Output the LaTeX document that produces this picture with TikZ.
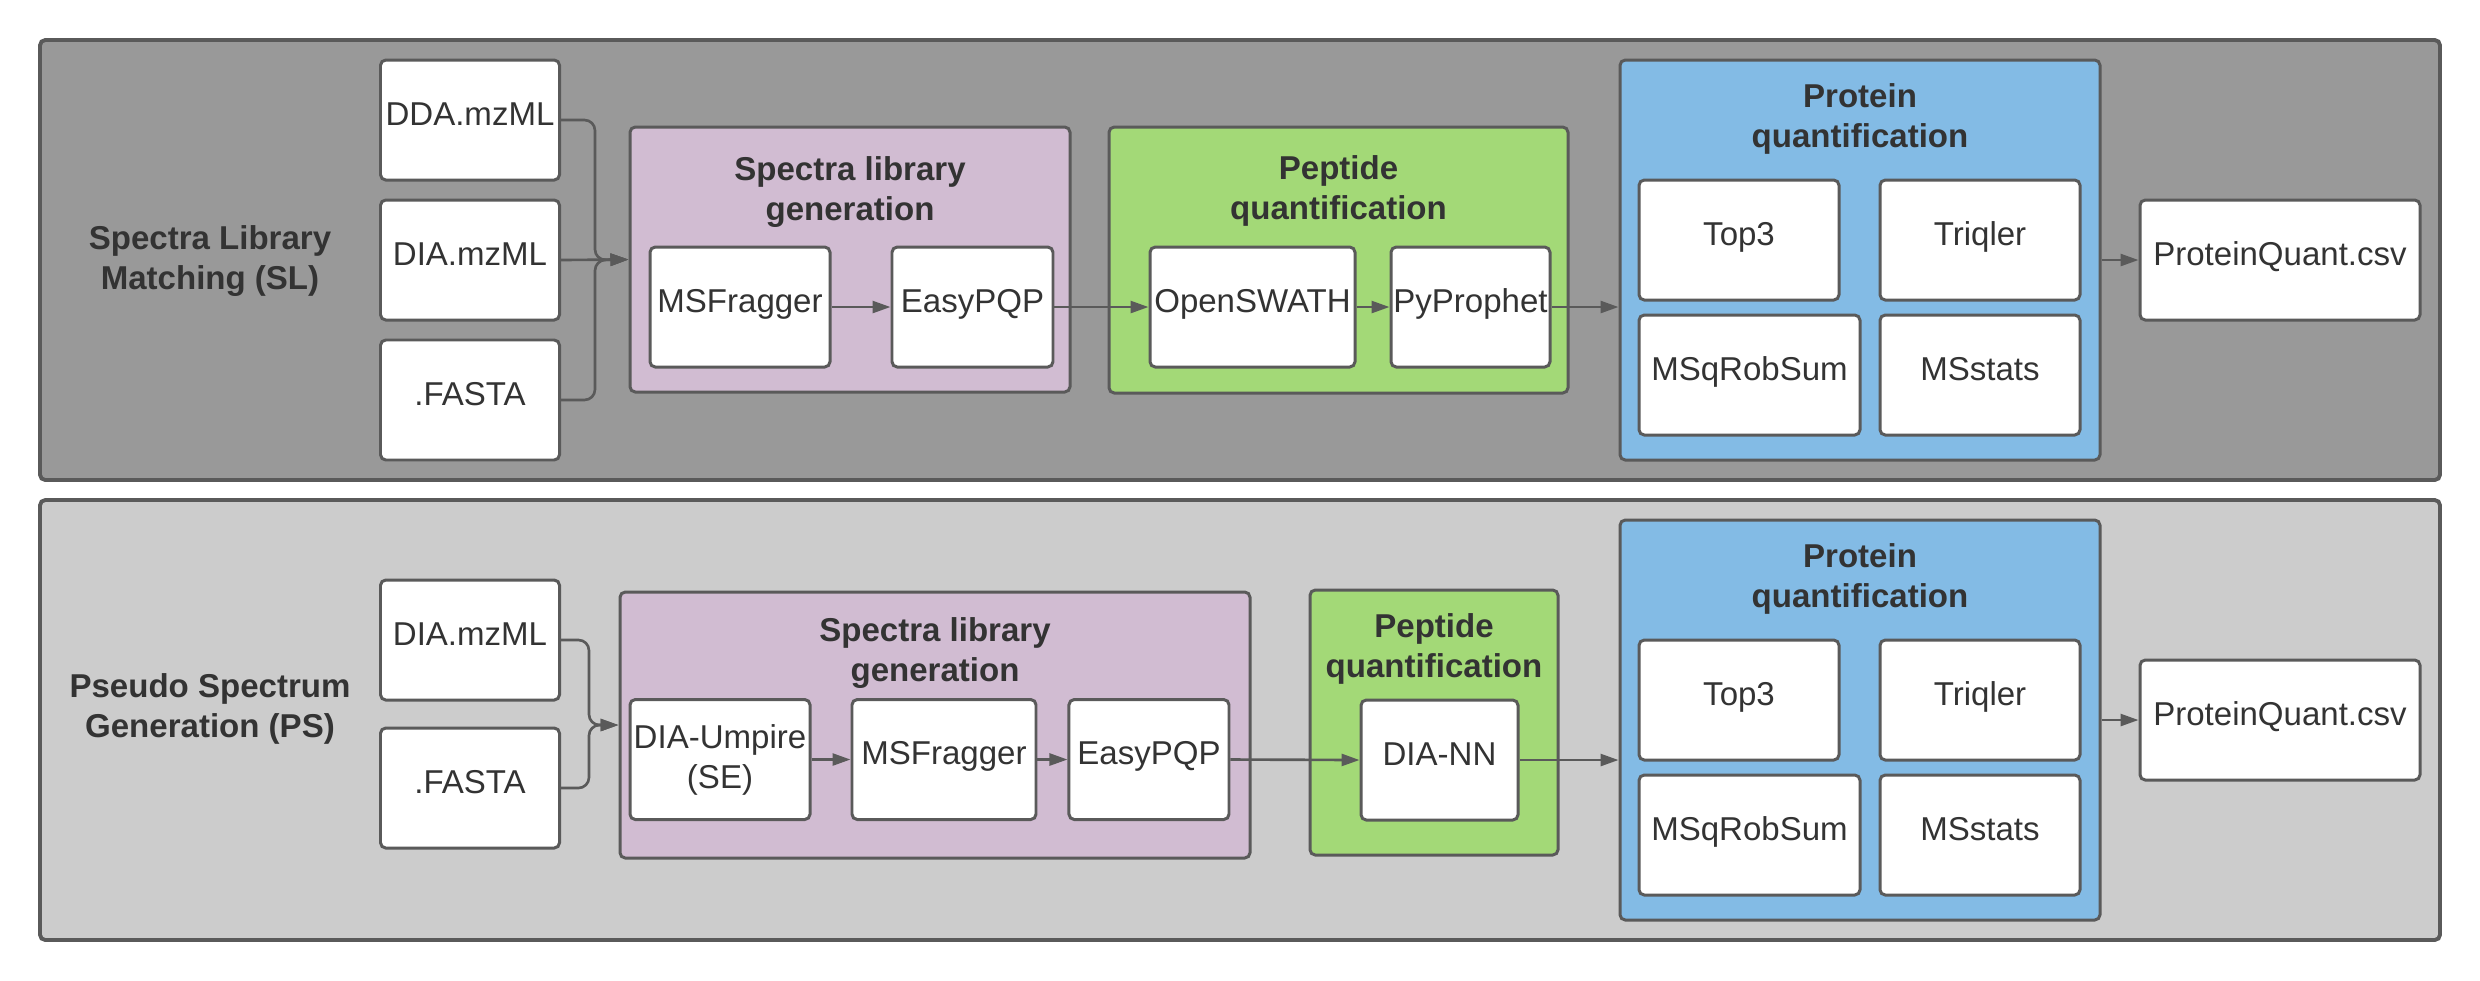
\documentclass[tikz,border=0pt]{standalone}
\usepackage{fontspec}
\setmainfont{Liberation Sans}
\usepackage{xcolor}
\usepackage{tikz}
\usetikzlibrary{arrows.meta, positioning, calc}

\definecolor{laneDark}{HTML}{999999}
\definecolor{laneLight}{HTML}{CCCCCC}
\definecolor{libPurple}{HTML}{D1BCD2}
\definecolor{pepGreen}{HTML}{A3D977}
\definecolor{protBlue}{HTML}{83BBE5}
\definecolor{lineGray}{HTML}{5A5A5A}
\definecolor{ink}{HTML}{333333}

\begin{document}
\begin{tikzpicture}[
    font=\fontsize{9.4}{11.4}\selectfont,
    text=ink,
    lane/.style={rectangle, draw=lineGray, line width=1.1pt, rounded corners=1.5pt, minimum width=24cm, minimum height=4.4cm},
    group/.style={rectangle, draw=lineGray, line width=0.85pt, rounded corners=1.5pt},
    toolbase/.style={rectangle, draw=lineGray, fill=white, line width=0.85pt, rounded corners=1.5pt, minimum height=1.2cm, inner sep=0pt, align=center},
    tool/.style={toolbase, text height=0.62em, text depth=0.32em},
    heading/.style={font=\fontsize{9.4}{11.4}\selectfont\bfseries, align=center, inner sep=0pt},
    flow/.style={-{Triangle[length=0.18cm, width=0.12cm]}, draw=lineGray, line width=0.75pt}
]
    \useasboundingbox (0,0) rectangle (24.8,-9.8);

    % Lanes
    \node [lane, fill=laneDark] (sllane) at (12.4,-2.6) {};
    \node [lane, fill=laneLight] (pslane) at (12.4,-7.2) {};
    \node [heading] (sllabel) at (2.10,-2.61) {Spectra Library\\Matching (SL)};
    \node [heading] (pslabel) at (2.10,-7.09) {Pseudo Spectrum\\Generation (PS)};

    % ---------- Spectra Library Matching ----------
    % Inputs
    \node [tool, minimum width=1.79cm] (dda1) at (4.70,-1.20) {DDA.mzML};
    \node [tool, minimum width=1.79cm, below=0.17cm of dda1] (dia1) {DIA.mzML};
    \node [tool, minimum width=1.79cm, below=0.17cm of dia1] (fasta1) {.FASTA};

    % Spectra library generation
    \node [group, fill=libPurple, minimum width=4.4cm, minimum height=2.65cm] (slg1) at (8.50,-2.595) {};
    \node [heading, anchor=north] (slgtitle1) at ($(slg1.north)+(0,-0.30)$) {Spectra library\\generation};
    \node [tool, minimum width=1.80cm] (msf1) at (7.40,-3.07) {MSFragger};
    \node [tool, minimum width=1.61cm, right=0.59cm of msf1] (easy1) {EasyPQP};

    % Peptide quantification
    \node [group, fill=pepGreen, minimum width=4.59cm, minimum height=2.66cm] (pep1) at (13.385,-2.60) {};
    \node [heading, anchor=north] (peptitle1) at ($(pep1.north)+(0,-0.29)$) {Peptide\\quantification};
    \node [tool, minimum width=2.05cm] (osw1) at (12.525,-3.07) {OpenSWATH};
    \node [tool, minimum width=1.59cm, right=0.33cm of osw1] (pyp1) {PyProphet};

    % Protein quantification
    \node [group, fill=protBlue, minimum width=4.8cm, minimum height=4.0cm] (prot1) at (18.60,-2.60) {};
    \node [heading, anchor=north] (prottitle1) at ($(prot1.north)+(0,-0.24)$) {Protein\\quantification};
    \node [tool, minimum width=2.0cm] (top1) at (17.39,-2.40) {Top3};
    \node [tool, minimum width=2.0cm] (triq1) at (19.80,-2.40) {Triqler};
    \node [tool, minimum width=2.21cm] (msq1) at (17.495,-3.75) {MSqRobSum};
    \node [tool, minimum width=2.0cm] (mss1) at (19.80,-3.75) {MSstats};

    % Output
    \node [tool, minimum width=2.8cm] (pq1) at (22.80,-2.60) {ProteinQuant.csv};

    % Flows
    \coordinate (join1) at (5.95,-2.60);
    \draw [flow, rounded corners=3pt] (dda1.east) -| (join1) -- (slg1.west);
    \draw [flow] (dia1.east) -- (slg1.west);
    \draw [flow, rounded corners=3pt] (fasta1.east) -| (join1) -- (slg1.west);
    \draw [flow] (msf1.east) -- (easy1.west);
    \draw [flow] (easy1.east) -- (osw1.west);
    \draw [flow] (osw1.east) -- (pyp1.west);
    \draw [flow] (pyp1.east) -- (pyp1.east -| prot1.west);
    \draw [flow] (prot1.east) -- (pq1.west);

    % ---------- Pseudo Spectrum Generation ----------
    % Inputs
    \node [tool, minimum width=1.79cm] (dia2) at (4.70,-6.40) {DIA.mzML};
    \node [tool, minimum width=1.79cm] (fasta2) at (4.70,-7.88) {.FASTA};

    % Spectra library generation
    \node [group, fill=libPurple, minimum width=6.3cm, minimum height=2.66cm] (slg2) at (9.35,-7.25) {};
    \node [heading, anchor=north] (slgtitle2) at ($(slg2.north)+(0,-0.26)$) {Spectra library\\generation};
    \node [toolbase, minimum width=1.80cm] (dum2) at (7.20,-7.595) {DIA-Umpire\\(SE)};
    \node [tool, minimum width=1.84cm, right=0.39cm of dum2] (msf2) {MSFragger};
    \node [tool, minimum width=1.60cm, right=0.30cm of msf2] (easy2) {EasyPQP};

    % Peptide quantification
    \node [group, fill=pepGreen, minimum width=2.48cm, minimum height=2.65cm] (pep2) at (14.34,-7.225) {};
    \node [heading, anchor=north] (peptitle2) at ($(pep2.north)+(0,-0.24)$) {Peptide\\quantification};
    \node [tool, minimum width=1.57cm] (dnn2) at (14.395,-7.60) {DIA-NN};

    % Protein quantification
    \node [group, fill=protBlue, minimum width=4.8cm, minimum height=4.0cm] (prot2) at (18.60,-7.20) {};
    \node [heading, anchor=north] (prottitle2) at ($(prot2.north)+(0,-0.24)$) {Protein\\quantification};
    \node [tool, minimum width=2.0cm] (top2) at (17.39,-7.00) {Top3};
    \node [tool, minimum width=2.0cm] (triq2) at (19.80,-7.00) {Triqler};
    \node [tool, minimum width=2.21cm] (msq2) at (17.495,-8.35) {MSqRobSum};
    \node [tool, minimum width=2.0cm] (mss2) at (19.80,-8.35) {MSstats};

    % Output
    \node [tool, minimum width=2.8cm] (pq2) at (22.80,-7.20) {ProteinQuant.csv};

    % Flows
    \coordinate (join2) at (5.89,-7.25);
    \draw [flow, rounded corners=3pt] (dia2.east) -| (join2) -- (slg2.west);
    \draw [flow, rounded corners=3pt] (fasta2.east) -| (join2) -- (slg2.west);
    \draw [flow] (dum2.east) -- (msf2.west);
    \draw [flow] (msf2.east) -- (easy2.west);
    \draw [flow] (easy2.east) -- (dnn2.west);
    \draw [flow] (dnn2.east) -- (dnn2.east -| prot2.west);
    \draw [flow] (prot2.east) -- (pq2.west);
\end{tikzpicture}
\end{document}
